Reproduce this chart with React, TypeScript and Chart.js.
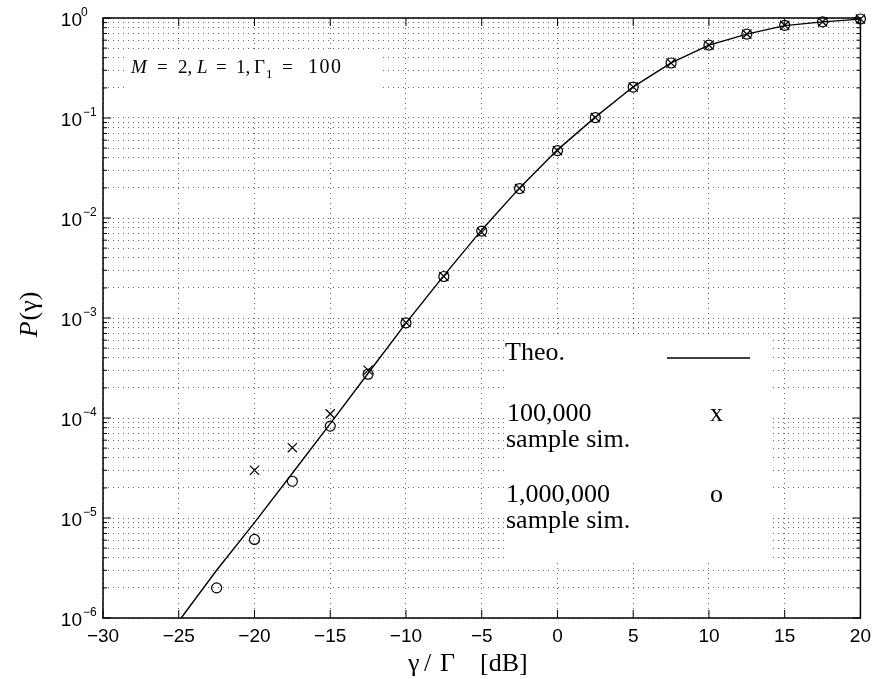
import React, { useEffect, useRef } from 'react';
import { Chart, registerables } from 'chart.js';

Chart.register(...registerables);

// ---- data ----
const xTicks = [-30, -25, -20, -15, -10, -5, 0, 5, 10, 15, 20];
const yDecades = [-6, -5, -4, -3, -2, -1, 0];
const yMantissas = [1, 2, 3, 4, 5, 6, 7, 8, 9];

const theoX = [-24.84, -22.5, -20, -17.5, -15, -12.5, -10, -7.5, -5, -2.5, 0, 2.5, 5, 7.5, 10, 12.5, 15, 17.5, 20];
const theoY = [1.0e-6, 3.0e-6, 9.0e-6, 2.8e-5, 8.8e-5, 2.8e-4, 8.9e-4, 2.65e-3, 7.6e-3, 2.0e-2, 4.8e-2, 0.102, 0.205, 0.355, 0.535, 0.69, 0.84, 0.915, 0.975];

const sim100kX = [-20, -17.5, -15, -12.5, -10, -7.5, -5, -2.5, 0, 2.5, 5, 7.5, 10, 12.5, 15, 17.5, 20];
const sim100kY = [3.0e-5, 5.05e-5, 1.1e-4, 3.0e-4, 9.0e-4, 2.6e-3, 7.2e-3, 1.97e-2, 4.72e-2, 0.101, 0.204, 0.355, 0.535, 0.69, 0.845, 0.915, 0.977];

const sim1MX = [-22.5, -20, -17.5, -15, -12.5, -10, -7.5, -5, -2.5, 0, 2.5, 5, 7.5, 10, 12.5, 15, 17.5, 20];
const sim1MY = [2.0e-6, 6.1e-6, 2.33e-5, 8.3e-5, 2.74e-4, 8.95e-4, 2.6e-3, 7.4e-3, 1.97e-2, 4.72e-2, 0.101, 0.204, 0.355, 0.535, 0.69, 0.845, 0.915, 0.977];

const legendLabels = ['Theo.', '100,000', 'sample sim.', '1,000,000', 'sample sim.'];

const yTickValues: number[] = [];
yDecades.forEach((d) => {
  yMantissas.forEach((m) => {
    const v = m * Math.pow(10, d);
    if (v <= 1.0000001) yTickValues.push(v);
  });
});

const SERIF = '"Liberation Serif", "Times New Roman", serif';
const SANS = '"Liberation Sans", Arial, sans-serif';

const decor = {
  id: 'decor',
  beforeDatasetsDraw(chart: any) {
    const ctx = chart.ctx as CanvasRenderingContext2D;
    ctx.save();
    ctx.fillStyle = '#fff';
    ctx.fillRect(128, 53, 255, 62);
    ctx.fillRect(505, 336, 266, 225);
    ctx.restore();
  },
  afterDraw(chart: any) {
    const ctx = chart.ctx as CanvasRenderingContext2D;
    const a = chart.chartArea;
    const xs = chart.scales.x;
    const ys = chart.scales.y;
    ctx.save();
    // frame
    ctx.strokeStyle = '#000';
    ctx.lineWidth = 1.5;
    ctx.strokeRect(a.left, a.top, a.right - a.left, a.bottom - a.top);
    // inward ticks
    ctx.lineWidth = 1;
    ctx.beginPath();
    xTicks.forEach((v) => {
      const px = xs.getPixelForValue(v);
      ctx.moveTo(px, a.bottom);
      ctx.lineTo(px, a.bottom - 8);
      ctx.moveTo(px, a.top);
      ctx.lineTo(px, a.top + 8);
    });
    yTickValues.forEach((v) => {
      const py = ys.getPixelForValue(v);
      const m = Math.round(v / Math.pow(10, Math.floor(Math.log10(v) + 1e-9)));
      const len = m === 1 ? 8 : 4;
      ctx.moveTo(a.left, py);
      ctx.lineTo(a.left + len, py);
      ctx.moveTo(a.right, py);
      ctx.lineTo(a.right - len, py);
    });
    ctx.stroke();

    // y tick labels 10^k
    ctx.fillStyle = '#000';
    yDecades.forEach((d) => {
      const py = ys.getPixelForValue(Math.pow(10, d));
      ctx.font = `19px ${SANS}`;
      ctx.textAlign = 'right';
      ctx.textBaseline = 'alphabetic';
      ctx.fillText('10', 82, py + 8);
      ctx.font = `12px ${SANS}`;
      ctx.textAlign = 'left';
      const e = d < 0 ? '\u2212' + Math.abs(d) : String(d);
      ctx.fillText(e, d === 0 ? 81 : 83, py - 2);
    });

    // y axis title
    ctx.save();
    ctx.translate(37, 315);
    ctx.rotate(-Math.PI / 2);
    ctx.textAlign = 'left';
    ctx.textBaseline = 'alphabetic';
    ctx.font = `italic 26px ${SERIF}`;
    const wP = ctx.measureText('P').width;
    ctx.font = `26px ${SERIF}`;
    const wR = ctx.measureText('(\u03b3)').width;
    const x0 = -(wP + wR) / 2;
    ctx.font = `italic 26px ${SERIF}`;
    ctx.fillText('P', x0, 0);
    ctx.font = `26px ${SERIF}`;
    ctx.fillText('(\u03b3)', x0 + wP + 1, 0);
    ctx.restore();

    // x axis title
    ctx.font = `26px ${SERIF}`;
    ctx.textAlign = 'left';
    ctx.textBaseline = 'alphabetic';
    ctx.fillText('\u03b3', 408, 671);
    ctx.fillText('/', 424, 671);
    ctx.fillText('\u0393', 440, 671);
    ctx.fillText('[dB]', 480, 671);

    // annotation
    const bl = 73;
    ctx.font = `italic 19px ${SERIF}`;
    ctx.fillText('M', 131, bl);
    ctx.fillText('L', 197, bl);
    ctx.font = `19px ${SERIF}`;
    ctx.fillText('=', 157, bl);
    ctx.fillText('2,', 178, bl);
    ctx.fillText('=', 216, bl);
    ctx.fillText('1,', 236, bl);
    ctx.fillText('\u0393', 254, bl);
    ctx.fillText('=', 282, bl);
    ctx.font = `20px ${SERIF}`;
    (ctx as any).letterSpacing = '1.5px';
    ctx.fillText('100', 308, bl);
    (ctx as any).letterSpacing = '0px';
    ctx.font = `13px ${SERIF}`;
    ctx.fillText('1', 266, bl + 5);

    // legend
    ctx.font = `26px ${SERIF}`;
    ctx.fillText(legendLabels[0], 505, 360);
    ctx.fillText(legendLabels[1], 507, 421);
    ctx.fillText(legendLabels[2], 506, 447);
    ctx.fillText(legendLabels[3], 506, 502);
    ctx.fillText(legendLabels[4], 506, 528);
    ctx.fillText('x', 710, 421);
    ctx.fillText('o', 710, 502);
    ctx.lineWidth = 1.5;
    ctx.beginPath();
    ctx.moveTo(667, 358);
    ctx.lineTo(750, 358);
    ctx.stroke();
    ctx.restore();
  },
};

export default function App() {
  const ref = useRef<HTMLCanvasElement | null>(null);
  useEffect(() => {
    document.body.style.margin = '0';
    const canvas = ref.current;
    if (!canvas) return;
    const chart = new Chart(canvas, {
      type: 'scatter',
      data: {
        datasets: [
          {
            label: 'Theo.',
            data: theoX.map((x, i) => ({ x, y: theoY[i] })),
            showLine: true,
            borderColor: '#000',
            borderWidth: 1.4,
            pointRadius: 0,
            tension: 0,
          },
          {
            label: '100,000 sample sim.',
            data: sim100kX.map((x, i) => ({ x, y: sim100kY[i] })),
            showLine: false,
            pointStyle: 'crossRot',
            pointRadius: 6.5,
            borderColor: '#000',
            backgroundColor: 'transparent',
            borderWidth: 1.2,
            clip: false,
          },
          {
            label: '1,000,000 sample sim.',
            data: sim1MX.map((x, i) => ({ x, y: sim1MY[i] })),
            showLine: false,
            pointStyle: 'circle',
            pointRadius: 5,
            borderColor: '#000',
            backgroundColor: 'transparent',
            borderWidth: 1.2,
            clip: false,
          },
        ],
      },
      options: {
        responsive: false,
        animation: false,
        layout: { padding: { top: 18, right: 12, left: 0, bottom: 0 } },
        plugins: {
          legend: { display: false },
          tooltip: { enabled: false },
          title: { display: false },
        },
        scales: {
          x: {
            type: 'linear',
            min: -30,
            max: 20,
            ticks: {
              stepSize: 5,
              color: '#000',
              font: { family: SANS, size: 19 },
              padding: 7,
              maxRotation: 0,
              autoSkip: false,
              callback: (v: any) => (Number(v) < 0 ? '\u2212' + Math.abs(Number(v)) : String(v)),
            },
            grid: { color: 'rgba(0,0,0,0.6)', lineWidth: 1, drawTicks: false },
            border: { display: false, dash: [1, 4] },
            afterFit: (s: any) => {
              s.height = 61;
            },
          },
          y: {
            type: 'logarithmic',
            min: 1e-6,
            max: 1,
            ticks: { display: false, autoSkip: false },
            afterBuildTicks: (s: any) => {
              s.ticks = yTickValues.map((v) => ({ value: v }));
            },
            grid: { color: 'rgba(0,0,0,0.6)', lineWidth: 1, drawTicks: false },
            border: { display: false, dash: [1, 4] },
            afterFit: (s: any) => {
              s.width = 103;
            },
          },
        },
      },
      plugins: [decor],
    } as any);
    return () => chart.destroy();
  }, []);
  return (
    <div style={{ width: 878, height: 679 }}>
      <canvas ref={ref} width={878} height={679} />
    </div>
  );
}
